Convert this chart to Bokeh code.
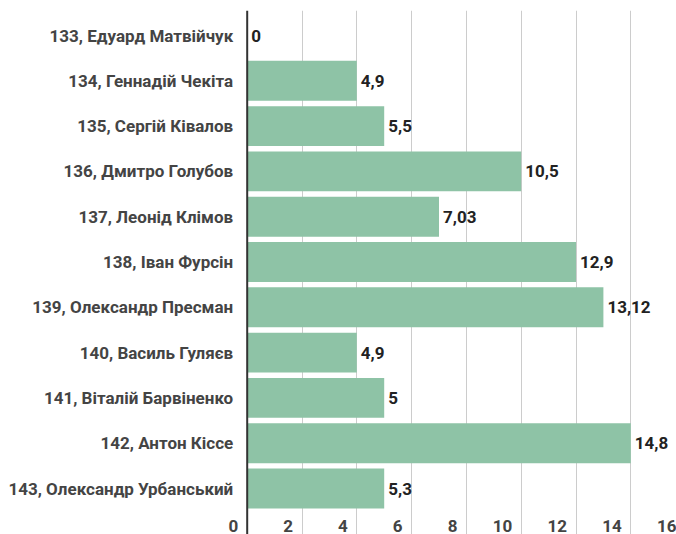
from bokeh.plotting import figure
from bokeh.models import ColumnDataSource, Range1d, FixedTicker, Grid, Span
from bokeh.core.properties import value
from bokeh.embed import file_html
from bokeh.resources import INLINE

names = ["133, Едуард Матвійчук", "134, Геннадій Чекіта", "135, Сергій Ківалов",
         "136, Дмитро Голубов", "137, Леонід Клімов", "138, Іван Фурсін",
         "139, Олександр Пресман", "140, Василь Гуляєв", "141, Віталій Барвіненко",
         "142, Антон Кіссе", "143, Олександр Урбанський"]
# bar lengths as drawn in the picture
bar_values = [0, 4, 5, 10, 7, 12, 13, 4, 5, 14, 5]
# value labels as printed
value_labels = ["0", "4,9", "5,5", "10,5", "7,03", "12,9", "13,12", "4,9", "5", "14,8", "5,3"]
x_ticks = [0, 2, 4, 6, 8, 10, 12, 14, 16]
x_tick_labels = ["0", "2", "4", "6", "8", "10", "12", "14", "16"]

FONT = "Roboto"
W, H = 676, 534
px_per_unit = 27.4
x0_px = 246.7
row_px = 45.3

pos = list(range(len(names)))
src = ColumnDataSource(dict(y=pos, v=bar_values, lab=value_labels, name=names,
                            zero=[0] * len(names)))

x_start = -x0_px / px_per_unit
x_end = (W - x0_px) / px_per_unit
y_top = -(35 - 10) / row_px

p = figure(width=W, height=H, output_backend="svg", toolbar_location=None,
           x_axis_location=None, y_axis_location=None,
           x_range=Range1d(x_start, x_end),
           y_range=Range1d((H - 35) / row_px, y_top),
           min_border_left=0, min_border_right=0, min_border_top=10, min_border_bottom=0)
p.outline_line_color = None
p.background_fill_color = "white"
p.border_fill_color = "white"
# remove the default grids
for g in list(p.grid):
    g.visible = False
    g.grid_line_color = None

grid = Grid(dimension=0, ticker=FixedTicker(ticks=x_ticks[1:]),
            grid_line_color="#cccccc", grid_line_width=1)
p.add_layout(grid)

p.hbar(y="y", left=0, right="v", height=0.88, source=src,
       fill_color="#8ec3a6", line_color=None)

p.add_layout(Span(location=0, dimension="height", line_color="#333333", line_width=2))

# category labels
p.text(x="zero", y="y", text="name", source=src, text_align="right",
       text_baseline="middle", x_offset=-14, text_font=value(FONT),
       text_font_size="17px", text_font_style="bold", text_color="#444444")

# value labels
p.text(x="v", y="y", text="lab", source=src, text_align="left",
       text_baseline="middle", x_offset=4, text_font=value(FONT),
       text_font_size="17px", text_font_style="bold", text_color="#222222")

# x tick labels
tsrc = ColumnDataSource(dict(x=x_ticks, t=x_tick_labels,
                             y=[(525 - 35) / row_px] * len(x_ticks)))
p.text(x="x", y="y", text="t", source=tsrc, text_align="right",
       text_baseline="middle", x_offset=-9, text_font=value(FONT),
       text_font_size="17px", text_font_style="bold", text_color="#444444")

open("out.html", "w").write(file_html(p, INLINE))
